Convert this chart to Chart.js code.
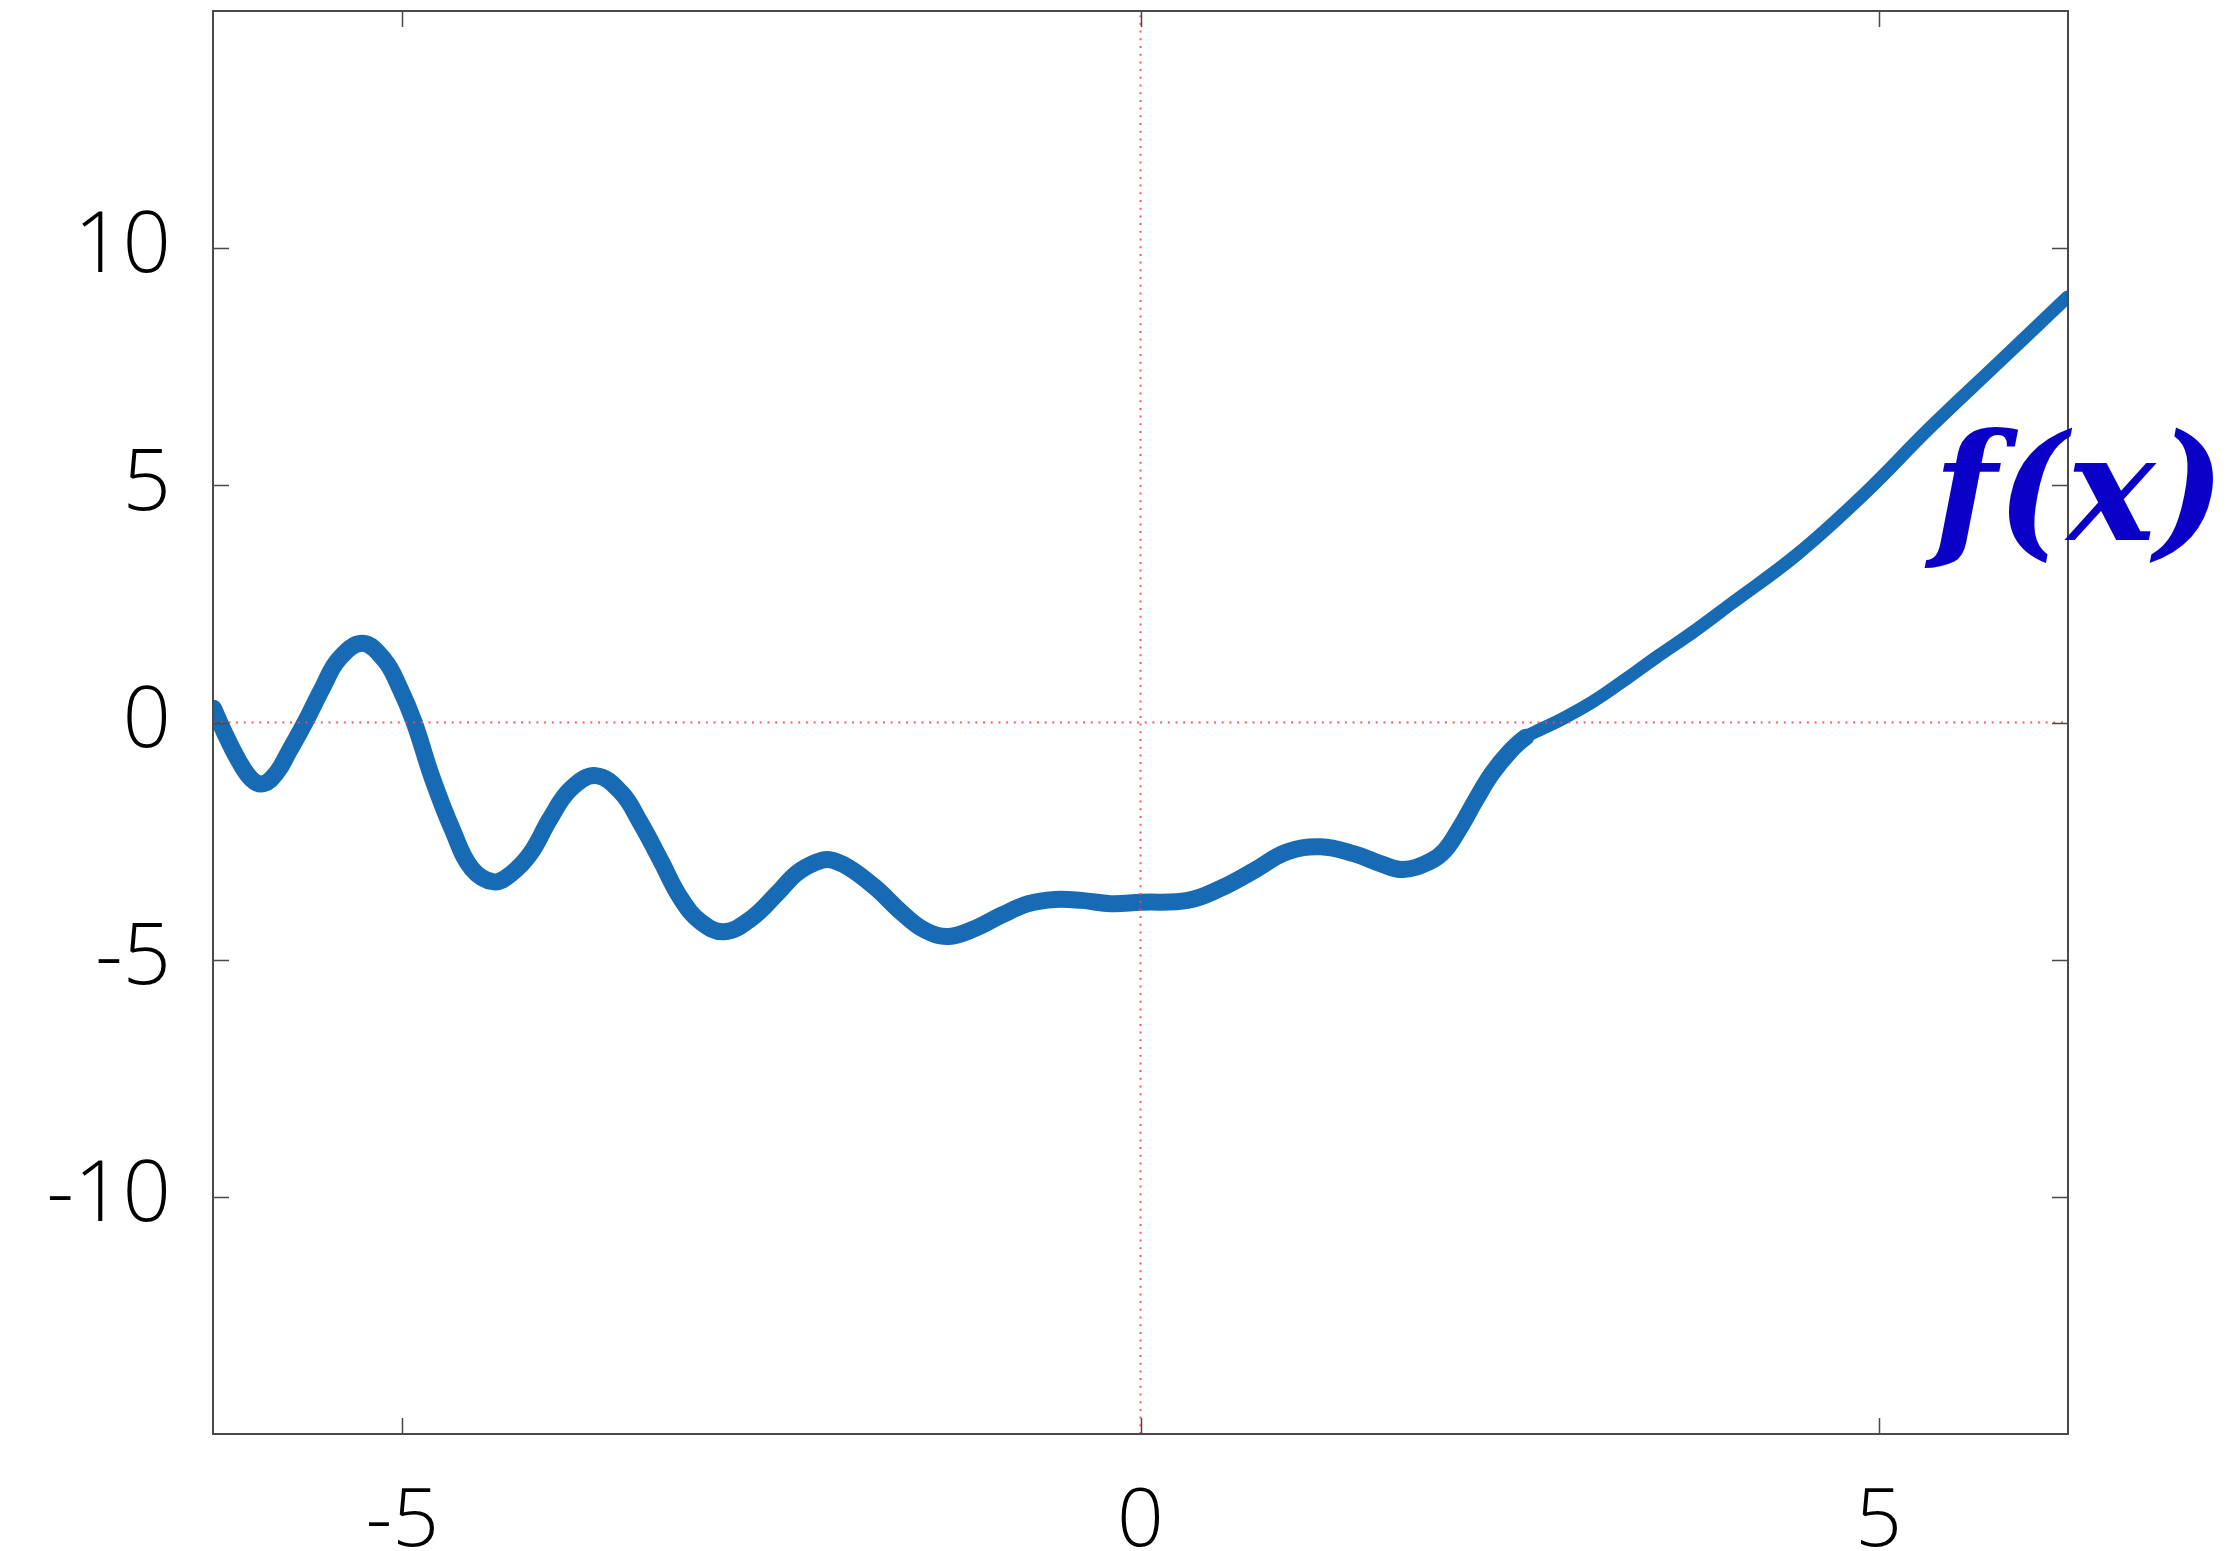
<!DOCTYPE html>
<html lang="en">
<head>
    <meta charset="UTF-8">
    <title>f(x)</title>
    <!-- Link chart.js. -->
    <script src="https://cdn.jsdelivr.net/npm/chart.js"></script>
    <style>
      body { margin: 0; background: #fff; }
      .container { width: 2229px; height: 1551px; }
    </style>
</head>
<body>

  <div class="container">
    <canvas id="chart0"></canvas>
  </div>

  <script>

    /* Curve values. */
    const xValues = [
      -6.28, -6.20, -6.11, -6.02, -5.94, -5.85, -5.77, -5.66, -5.54, -5.43,
      -5.27, -5.12, -5.02, -4.92, -4.80, -4.66, -4.53, -4.38, -4.26, -4.13,
      -4.00, -3.86, -3.69, -3.52, -3.39, -3.25, -3.12, -2.98, -2.82, -2.64,
      -2.46, -2.33, -2.20, -2.11, -1.98, -1.80, -1.61, -1.46, -1.30, -1.12,
      -0.94, -0.76, -0.58, -0.40, -0.20, 0.00, 0.32, 0.54, 0.77, 0.99,
      1.22, 1.45, 1.63, 1.78, 1.96, 2.06, 2.16, 2.27, 2.38, 2.50,
      2.61, 2.72, 2.83, 3.06, 3.29, 3.51, 3.74, 4.00, 4.45, 4.90,
      5.35, 5.80, 6.28
    ]
    const yValues = [
      0.30, -0.25, -0.80, -1.20, -1.29, -1.05, -0.62, 0.00, 0.74, 1.34,
      1.67, 1.31, 0.74, 0.00, -1.15, -2.27, -3.08, -3.36, -3.18, -2.75,
      -2.03, -1.40, -1.12, -1.47, -2.10, -2.91, -3.68, -4.20, -4.41, -4.14,
      -3.60, -3.18, -2.95, -2.89, -3.05, -3.47, -4.03, -4.38, -4.51, -4.34,
      -4.06, -3.82, -3.73, -3.75, -3.82, -3.79, -3.75, -3.50, -3.12, -2.73,
      -2.62, -2.77, -2.98, -3.10, -2.93, -2.70, -2.24, -1.64, -1.08, -0.62,
      -0.31, -0.13, 0.03, 0.43, 0.92, 1.41, 1.90, 2.50, 3.55, 4.81,
      6.22, 7.55, 8.97
    ]

    /* Axis ranges and ticks. */
    const xRange = [-2 * Math.PI, 2 * Math.PI]
    const yRange = [-15, 15]
    const xTicks = [-5, 0, 5]
    const yTicks = [-10, -5, 0, 5, 10]

    /* Red dotted zero lines. */
    const zeroLineX = [{ x: xRange[0], y: 0 }, { x: xRange[1], y: 0 }]
    const zeroLineY = [{ x: 0, y: yRange[0] }, { x: 0, y: yRange[1] }]

    /* Curve label and where it sits (data units). */
    const curveLabel = "f(x)"
    const curveLabelAt = { x: 5.37, y: 3.85 }

    const tickFont = { family: "'Open Sans', 'Liberation Sans', sans-serif", weight: 300 }

    /* Frame, inward ticks and the f(x) label. */
    const framePlugin = {
      id: "frame",
      afterDraw: (chart) => {
        const ctx = chart.ctx
        const a = chart.chartArea
        const xs = chart.scales.x
        const ys = chart.scales.y
        const len = 16
        ctx.save()
        ctx.strokeStyle = "#4a4a4a"
        ctx.lineWidth = 2
        ctx.strokeRect(a.left, a.top, a.right - a.left, a.bottom - a.top)
        ctx.lineWidth = 1.5
        ctx.beginPath()
        xTicks.forEach(v => {
          const px = Math.round(xs.getPixelForValue(v)) + 0.5
          ctx.moveTo(px, a.bottom); ctx.lineTo(px, a.bottom - len)
          ctx.moveTo(px, a.top); ctx.lineTo(px, a.top + len)
        })
        yTicks.forEach(v => {
          const py = Math.round(ys.getPixelForValue(v)) + 0.5
          ctx.moveTo(a.left, py); ctx.lineTo(a.left + len, py)
          ctx.moveTo(a.right, py); ctx.lineTo(a.right - len, py)
        })
        ctx.stroke()

        ctx.fillStyle = "#0b00c8"
        ctx.font = "italic bold 148px 'DejaVu Serif', serif"
        ctx.textBaseline = "alphabetic"
        ctx.textAlign = "left"
        ctx.fillText(curveLabel, xs.getPixelForValue(curveLabelAt.x), ys.getPixelForValue(curveLabelAt.y))
        ctx.restore()
      }
    }

    /* Wavy part is drawn heavier than the rising part. */
    const segWidth = (c) => (c.p0.parsed.x < 2.6 ? 17 : 13)

    const ctx0 = document.getElementById("chart0").getContext("2d")
    const myChart0 = new Chart(ctx0, {
      type: "line",
      data: {
        datasets: [{
          data: zeroLineX,
          borderColor: "rgba(255, 70, 70, 0.9)",
          borderWidth: 2,
          borderDash: [2, 5.7],
          pointRadius: 0
        }, {
          data: zeroLineY,
          borderColor: "rgba(255, 70, 70, 0.9)",
          borderWidth: 2,
          borderDash: [2, 5.7],
          pointRadius: 0
        }, {
          data: xValues.map((x, i) => ({ x: x, y: yValues[i] })),
          borderColor: "#176bb5",
          borderWidth: 16,
          borderCapStyle: "round",
          borderJoinStyle: "round",
          tension: 0.4,
          pointRadius: 0,
          segment: { borderWidth: segWidth }
        }]
      },
      options: {
        responsive: true,
        maintainAspectRatio: false,
        animation: false,
        layout: { padding: { top: 11, right: 161, bottom: 0, left: 0 } },
        plugins: {
          legend: { display: false },
          tooltip: { enabled: false }
        },
        scales: {
          x: {
            type: "linear",
            min: xRange[0],
            max: xRange[1],
            grid: { display: false, drawTicks: false },
            border: { display: false },
            afterBuildTicks: (s) => { s.ticks = xTicks.map(v => ({ value: v })) },
            afterFit: (s) => { s.height = 117; s.paddingLeft = 0; s.paddingRight = 0 },
            ticks: {
              font: { ...tickFont, size: 82 },
              color: "#000",
              padding: 39,
              maxRotation: 0,
              callback: (v) => String(v)
            }
          },
          y: {
            type: "linear",
            min: yRange[0],
            max: yRange[1],
            grid: { display: false, drawTicks: false },
            border: { display: false },
            afterBuildTicks: (s) => { s.ticks = yTicks.map(v => ({ value: v })) },
            afterFit: (s) => { s.width = 213; s.paddingTop = 0; s.paddingBottom = 0 },
            ticks: {
              font: { ...tickFont, size: 85 },
              color: "#000",
              padding: 42,
              callback: (v) => String(v)
            }
          }
        }
      },
      plugins: [framePlugin]
    })

  </script>

</body>
</html>
